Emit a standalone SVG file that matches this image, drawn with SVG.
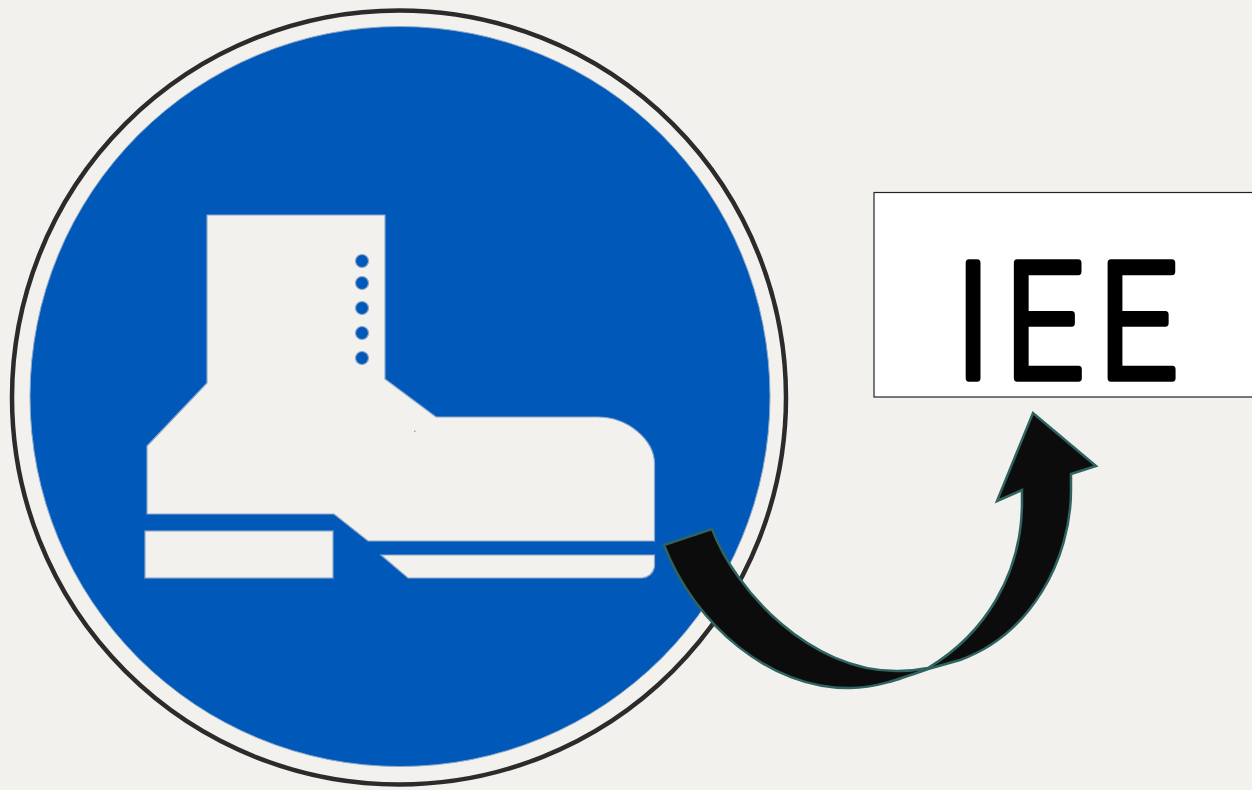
<svg xmlns="http://www.w3.org/2000/svg" width="1252" height="790" viewBox="0 0 1252 790">
<style>
.boot{fill:#f3f1ee;stroke:#8ea8c8;stroke-width:1.2}
.dot{fill:#0058b8;stroke:#8ea8c8;stroke-width:1.2}
.label{font-family:"Roboto",sans-serif;font-size:162px;font-weight:300;fill:#000;stroke:#000;stroke-width:7.500;stroke-linejoin:round}
</style>
<rect width="1252" height="790" fill="#f3f1ee"/>
<g id="sign">
<ellipse cx="399" cy="397.500" rx="387" ry="387" fill="none" stroke="#2b2b2b" stroke-width="4.500"/>
<circle cx="400" cy="396.500" r="370" fill="#0058b8" stroke="#8ea8c8" stroke-width="1"/>
<path class="boot" d="M207 215H385V379L436 417H598C628 417 654 440 654.500 463V541H368L334 514H147V446L207 383Z"/>
<rect class="boot" x="145" y="531" width="188" height="47"/>
<path class="boot" d="M381 555H654.500V567Q652 577 642 578H408Z"/>
<circle class="dot" cx="362" cy="261" r="6.500"/>
<circle class="dot" cx="362" cy="283" r="6.500"/>
<circle class="dot" cx="362" cy="308" r="6.500"/>
<circle class="dot" cx="362" cy="333" r="6.500"/>
<circle class="dot" cx="362" cy="358" r="6.500"/>
<rect x="414" y="430.500" width="1.500" height="1.500" fill="#a8a8a8"/>
</g>
<g id="label-box">
<rect x="874" y="192.500" width="380" height="204.500" fill="#fff" stroke="#222" stroke-width="1.200"/>
<text class="label" transform="scale(.86 1)" x="1110 1168 1277" y="378.500">IEE</text>
</g>
<g id="connectors">
<path d="M664 545L712 529C735 590 810 672 898 671C908 671 918 670 928 668C985 634 1021 575 1022 505V490L997 501L1033 413L1096 466L1071 474V490C1071 560 1030 635 960 660L928 669C900 679 875 688 850 688C770 689 695 625 664 545Z" fill="#0c0c0c" stroke="#2f6360" stroke-width="2.500"/>
</g>
</svg>
